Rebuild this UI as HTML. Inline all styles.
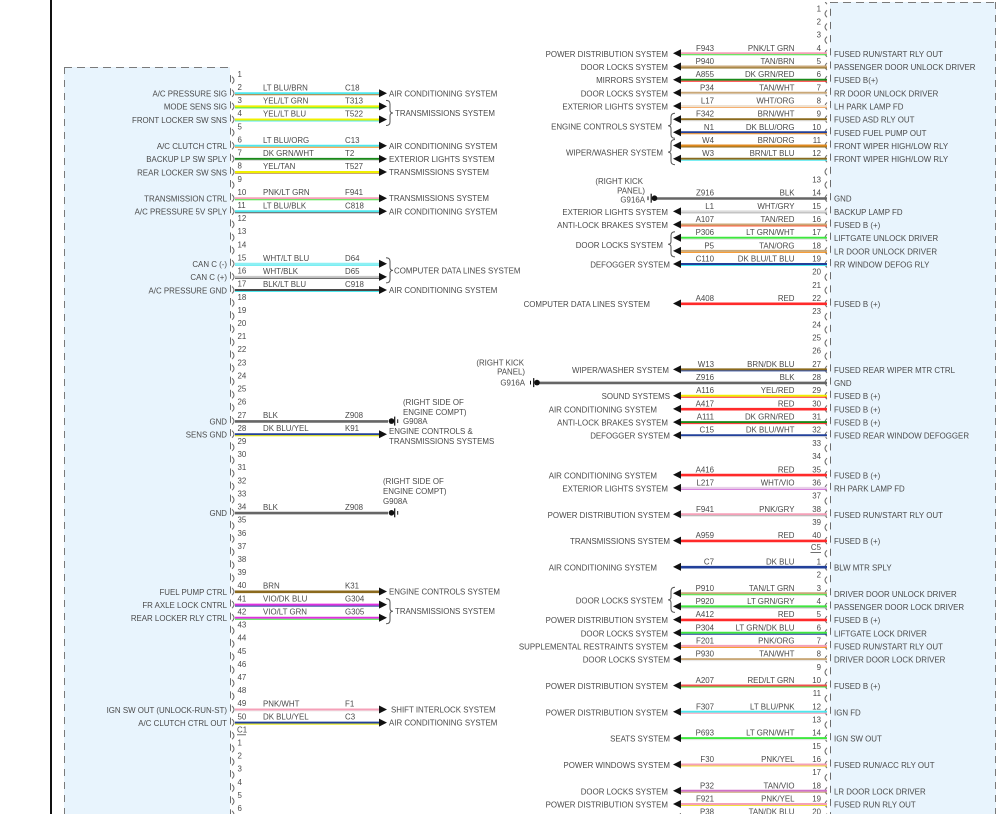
<!DOCTYPE html>
<html><head><meta charset="utf-8"><style>
html,body{margin:0;padding:0;background:#fff;}
svg{display:block;}
text{font-family:"Liberation Sans",Arial,sans-serif;font-size:7.9px;fill:#4a4a4a;}
</style></head><body>
<svg width="1004" height="814" viewBox="0 0 1004 814" xmlns="http://www.w3.org/2000/svg">
<defs>
<pattern id="lp" patternUnits="userSpaceOnUse" x="228" y="73.2" width="10" height="13.11">
<path d="M2.5,2V9" stroke="#6a6a6a" stroke-width="1"/>
<path d="M4,3.5Q8,7 4,10.5" stroke="#6a6a6a" stroke-width="1" fill="none"/>
</pattern>
<pattern id="rp" patternUnits="userSpaceOnUse" x="820" y="6.8" width="12" height="13.17">
<path d="M10.5,2V9" stroke="#6a6a6a" stroke-width="1"/>
<path d="M7,3.5Q3,7 7,10.5" stroke="#6a6a6a" stroke-width="1" fill="none"/>
</pattern>
</defs>
<rect width="1004" height="814" fill="#fff"/>
<!-- black left line -->
<rect x="50" y="0" width="2" height="814" fill="#111"/>
<!-- boxes -->
<rect x="64" y="67" width="166" height="747" fill="#e8f4fd"/>
<rect x="830" y="2" width="166" height="812" fill="#e8f4fd"/>
<path d="M64,67.5H230" stroke="#7a7a7a" stroke-dasharray="8 5"/>
<path d="M64.5,67V814" stroke="#7a7a7a" stroke-dasharray="7 6"/>
<path d="M830,2.5H996" stroke="#7a7a7a" stroke-dasharray="8 5"/>
<path d="M995.5,2V814" stroke="#7a7a7a" stroke-dasharray="7 6"/>
<rect x="228" y="73.2" width="10" height="741" fill="url(#lp)"/>
<rect x="820" y="2" width="12" height="812" fill="url(#rp)"/>

<!-- LEFT WIRES -->
<g>
<path d="M235,93.3H380" stroke="#4ee8ee" stroke-width="2"/><path d="M235,94.8H380" stroke="#a9782a" stroke-width="1"/>
<path d="M235,106.4H380" stroke="#f0f000" stroke-width="2"/><path d="M235,107.9H380" stroke="#3ee83e" stroke-width="1"/>
<path d="M235,119.5H380" stroke="#f0f000" stroke-width="2"/><path d="M235,121H380" stroke="#4ee8ee" stroke-width="1"/>
<path d="M235,145.8H380" stroke="#4ee8ee" stroke-width="2"/><path d="M235,147.3H380" stroke="#f5901e" stroke-width="1"/>
<path d="M235,158.9H380" stroke="#1a8a1a" stroke-width="2"/><path d="M235,160.4H380" stroke="#d8d8d8" stroke-width="1"/>
<path d="M235,172H380" stroke="#f0f000" stroke-width="2"/><path d="M235,173.5H380" stroke="#c9a878" stroke-width="1"/>
<path d="M235,198.2H380" stroke="#f5a0b8" stroke-width="2"/><path d="M235,199.7H380" stroke="#3ee83e" stroke-width="1"/>
<path d="M235,211.3H380" stroke="#4ee8ee" stroke-width="2"/><path d="M235,212.8H380" stroke="#5a5a5a" stroke-width="1"/>
<path d="M235,263.8H380" stroke="#8ef0f4" stroke-width="2"/><path d="M235,265.3H380" stroke="#4ee8ee" stroke-width="1"/>
<path d="M235,276.9H380" stroke="#c8c8c8" stroke-width="2"/><path d="M235,278.4H380" stroke="#5a5a5a" stroke-width="1"/>
<path d="M235,290H380" stroke="#4a4a4a" stroke-width="2"/><path d="M235,291.5H380" stroke="#4ee8ee" stroke-width="1"/>
<path d="M235,421.4H388" stroke="#666" stroke-width="2.6"/>
<path d="M235,434.2H380" stroke="#22409a" stroke-width="2"/><path d="M235,435.7H380" stroke="#e8e800" stroke-width="1"/>
<path d="M235,513.1H388" stroke="#666" stroke-width="2.6"/>
<path d="M235,591.8H380" stroke="#8b6a1e" stroke-width="2.6"/>
<path d="M235,604.6H380" stroke="#e030e0" stroke-width="2"/><path d="M235,606.1H380" stroke="#22409a" stroke-width="1"/>
<path d="M235,617.7H380" stroke="#e030e0" stroke-width="2"/><path d="M235,619.2H380" stroke="#3ee83e" stroke-width="1"/>
<path d="M235,709.5H380" stroke="#f5a0b8" stroke-width="2"/><path d="M235,711H380" stroke="#eeeeee" stroke-width="1"/>
<path d="M235,722.6H380" stroke="#22409a" stroke-width="2"/><path d="M235,724.1H380" stroke="#e8e800" stroke-width="1"/>
</g>
<!-- left arrows -->
<g fill="#111">
<path d="M379,89.3L387,93.3L379,97.3Z"/>
<path d="M379,102.4L387,106.4L379,110.4Z"/>
<path d="M379,115.5L387,119.5L379,123.5Z"/>
<path d="M379,141.8L387,145.8L379,149.8Z"/>
<path d="M379,154.9L387,158.9L379,162.9Z"/>
<path d="M379,168L387,172L379,176Z"/>
<path d="M379,194.2L387,198.2L379,202.2Z"/>
<path d="M379,207.3L387,211.3L379,215.3Z"/>
<path d="M379,259.8L387,263.8L379,267.8Z"/>
<path d="M379,272.9L387,276.9L379,280.9Z"/>
<path d="M379,286L387,290L379,294Z"/>
<path d="M379,430.2L387,434.2L379,438.2Z"/>
<path d="M379,587.5L387,591.5L379,595.5Z"/>
<path d="M379,600.6L387,604.6L379,608.6Z"/>
<path d="M379,613.7L387,617.7L379,621.7Z"/>
<path d="M379,705.5L387,709.5L379,713.5Z"/>
<path d="M379,718.6L387,722.6L379,726.6Z"/>
</g>
<!-- left braces -->
<g stroke="#555" stroke-width="1" fill="none">
<path d="M386,100.4Q390,100.4 390,104L390,110Q390,113 393,113Q390,113 390,116L390,122Q390,125.5 386,125.5"/>
<path d="M386,257.8Q390,257.8 390,261.4L390,267.4Q390,270.4 393,270.4Q390,270.4 390,273.4L390,279.4Q390,282.9 386,282.9"/>
<path d="M386,598.6Q390,598.6 390,602.2L390,608.2Q390,611.2 393,611.2Q390,611.2 390,614.2L390,620.2Q390,623.7 386,623.7"/>
</g>
<!-- left grounds -->
<g fill="#111" stroke="#111">
<circle cx="391.5" cy="421.1" r="2.8" stroke="none"/>
<path d="M394.7,416.6V425.6" stroke-width="1.2" fill="none"/>
<path d="M397.7,419.3V423" stroke-width="1" fill="none"/>
<circle cx="391.5" cy="512.8" r="2.8" stroke="none"/>
<path d="M394.7,508.3V517.3" stroke-width="1.2" fill="none"/>
<path d="M397.7,511V514.7" stroke-width="1" fill="none"/>
</g>

<!-- LEFT TEXT -->
<g text-anchor="end">
<text x="227" y="96.6">A/C PRESSURE SIG</text>
<text x="227" y="109.7">MODE SENS SIG</text>
<text x="227" y="122.8">FRONT LOCKER SW SNS</text>
<text x="227" y="149.1">A/C CLUTCH CTRL</text>
<text x="227" y="162.2">BACKUP LP SW SPLY</text>
<text x="227" y="175.3">REAR LOCKER SW SNS</text>
<text x="227" y="201.5">TRANSMISSION CTRL</text>
<text x="227" y="214.6">A/C PRESSURE 5V SPLY</text>
<text x="227" y="267.1">CAN C (-)</text>
<text x="227" y="280.2">CAN C (+)</text>
<text x="227" y="293.3">A/C PRESSURE GND</text>
<text x="227" y="424.4">GND</text>
<text x="227" y="437.5">SENS GND</text>
<text x="227" y="516.1">GND</text>
<text x="227" y="594.8">FUEL PUMP CTRL</text>
<text x="227" y="607.9">FR AXLE LOCK CNTRL</text>
<text x="227" y="621">REAR LOCKER RLY CTRL</text>
<text x="227" y="712.8">IGN SW OUT (UNLOCK-RUN-ST)</text>
<text x="227" y="725.9">A/C CLUTCH CTRL OUT</text>
</g>
<g>
<text x="237.5" y="76.9">1</text><text x="237.5" y="90">2</text><text x="237.5" y="103.1">3</text><text x="237.5" y="116.2">4</text><text x="237.5" y="129.4">5</text>
<text x="237.5" y="142.5">6</text><text x="237.5" y="155.6">7</text><text x="237.5" y="168.7">8</text><text x="237.5" y="181.8">9</text><text x="237.5" y="194.9">10</text>
<text x="237.5" y="208">11</text><text x="237.5" y="221.1">12</text><text x="237.5" y="234.2">13</text><text x="237.5" y="247.3">14</text><text x="237.5" y="260.5">15</text>
<text x="237.5" y="273.6">16</text><text x="237.5" y="286.7">17</text><text x="237.5" y="299.8">18</text><text x="237.5" y="312.9">19</text><text x="237.5" y="326">20</text>
<text x="237.5" y="339.1">21</text><text x="237.5" y="352.2">22</text><text x="237.5" y="365.3">23</text><text x="237.5" y="378.4">24</text><text x="237.5" y="391.6">25</text>
<text x="237.5" y="404.7">26</text><text x="237.5" y="417.8">27</text><text x="237.5" y="430.9">28</text><text x="237.5" y="444">29</text><text x="237.5" y="457.1">30</text>
<text x="237.5" y="470.2">31</text><text x="237.5" y="483.3">32</text><text x="237.5" y="496.4">33</text><text x="237.5" y="509.5">34</text><text x="237.5" y="522.7">35</text>
<text x="237.5" y="535.8">36</text><text x="237.5" y="548.9">37</text><text x="237.5" y="562">38</text><text x="237.5" y="575.1">39</text><text x="237.5" y="588.2">40</text>
<text x="237.5" y="601.3">41</text><text x="237.5" y="614.4">42</text><text x="237.5" y="627.5">43</text><text x="237.5" y="640.6">44</text><text x="237.5" y="653.8">45</text>
<text x="237.5" y="666.9">46</text><text x="237.5" y="680">47</text><text x="237.5" y="693.1">48</text><text x="237.5" y="706.2">49</text><text x="237.5" y="719.3">50</text>
<text x="237" y="732.5">C1</text>
<text x="237.5" y="745.5">1</text><text x="237.5" y="758.6">2</text><text x="237.5" y="771.7">3</text><text x="237.5" y="784.8">4</text><text x="237.5" y="797.9">5</text><text x="237.5" y="811">6</text>
</g>
<path d="M237,734.8H246" stroke="#4a4a4a" stroke-width="0.8"/>
<g>
<text x="263" y="90.3">LT BLU/BRN</text><text x="345" y="90.3">C18</text>
<text x="263" y="103.4">YEL/LT GRN</text><text x="345" y="103.4">T313</text>
<text x="263" y="116.5">YEL/LT BLU</text><text x="345" y="116.5">T522</text>
<text x="263" y="142.8">LT BLU/ORG</text><text x="345" y="142.8">C13</text>
<text x="263" y="155.9">DK GRN/WHT</text><text x="345" y="155.9">T2</text>
<text x="263" y="169">YEL/TAN</text><text x="345" y="169">T527</text>
<text x="263" y="195.2">PNK/LT GRN</text><text x="345" y="195.2">F941</text>
<text x="263" y="208.3">LT BLU/BLK</text><text x="345" y="208.3">C818</text>
<text x="263" y="260.8">WHT/LT BLU</text><text x="345" y="260.8">D64</text>
<text x="263" y="273.9">WHT/BLK</text><text x="345" y="273.9">D65</text>
<text x="263" y="287">BLK/LT BLU</text><text x="345" y="287">C918</text>
<text x="263" y="418.1">BLK</text><text x="345" y="418.1">Z908</text>
<text x="263" y="431.2">DK BLU/YEL</text><text x="345" y="431.2">K91</text>
<text x="263" y="509.8">BLK</text><text x="345" y="509.8">Z908</text>
<text x="263" y="588.5">BRN</text><text x="345" y="588.5">K31</text>
<text x="263" y="601.6">VIO/DK BLU</text><text x="345" y="601.6">G304</text>
<text x="263" y="614.7">VIO/LT GRN</text><text x="345" y="614.7">G305</text>
<text x="263" y="706.5">PNK/WHT</text><text x="345" y="706.5">F1</text>
<text x="263" y="719.6">DK BLU/YEL</text><text x="345" y="719.6">C3</text>
</g>
<g>
<text x="389" y="96.3">AIR CONDITIONING SYSTEM</text>
<text x="395" y="116">TRANSMISSIONS SYSTEM</text>
<text x="389" y="148.8">AIR CONDITIONING SYSTEM</text>
<text x="389" y="161.9">EXTERIOR LIGHTS SYSTEM</text>
<text x="389" y="175">TRANSMISSIONS SYSTEM</text>
<text x="389" y="201.2">TRANSMISSIONS SYSTEM</text>
<text x="389" y="214.3">AIR CONDITIONING SYSTEM</text>
<text x="394" y="273.4">COMPUTER DATA LINES SYSTEM</text>
<text x="389" y="293">AIR CONDITIONING SYSTEM</text>
<text x="403" y="405">(RIGHT SIDE OF</text>
<text x="403" y="415">ENGINE COMPT)</text>
<text x="403" y="424">G908A</text>
<text x="389" y="434">ENGINE CONTROLS &amp;</text>
<text x="389" y="444">TRANSMISSIONS SYSTEMS</text>
<text x="383" y="484">(RIGHT SIDE OF</text>
<text x="383" y="494">ENGINE COMPT)</text>
<text x="383" y="504">G908A</text>
<text x="389" y="594.5">ENGINE CONTROLS SYSTEM</text>
<text x="395" y="614.2">TRANSMISSIONS SYSTEM</text>
<text x="391" y="712.5">SHIFT INTERLOCK SYSTEM</text>
<text x="389" y="725.6">AIR CONDITIONING SYSTEM</text>
</g>

<!-- RIGHT WIRES -->
<g>
<path d="M680,53.3H827" stroke="#f5a0b8" stroke-width="2"/><path d="M680,54.8H827" stroke="#3ee83e" stroke-width="1"/>
<path d="M680,66.5H827" stroke="#c9a878" stroke-width="2"/><path d="M680,68H827" stroke="#8b6a1e" stroke-width="1"/>
<path d="M680,79.7H827" stroke="#1a8a1a" stroke-width="2"/><path d="M680,81.2H827" stroke="#ff2a2a" stroke-width="1"/>
<path d="M680,92.8H827" stroke="#c9a878" stroke-width="2"/><path d="M680,94.3H827" stroke="#e8e8e8" stroke-width="1"/>
<path d="M680,106H827" stroke="#efe2d2" stroke-width="2"/><path d="M680,107.5H827" stroke="#f5b070" stroke-width="1"/>
<path d="M680,119.2H827" stroke="#8b6a1e" stroke-width="2"/><path d="M680,120.7H827" stroke="#e0e0e0" stroke-width="1"/>
<path d="M680,132.3H827" stroke="#22409a" stroke-width="2"/><path d="M680,133.8H827" stroke="#f5901e" stroke-width="1"/>
<path d="M680,145.5H827" stroke="#e08a20" stroke-width="2"/><path d="M680,147H827" stroke="#8b6a1e" stroke-width="1"/>
<path d="M680,158.7H827" stroke="#8b6a1e" stroke-width="2"/><path d="M680,160.2H827" stroke="#4ee8ee" stroke-width="1"/>
<path d="M657,198.5H827" stroke="#666" stroke-width="2.6"/>
<path d="M680,211.4H827" stroke="#dcdcdc" stroke-width="2"/><path d="M680,212.9H827" stroke="#b0b0b0" stroke-width="1"/>
<path d="M680,224.5H827" stroke="#c9a878" stroke-width="2"/><path d="M680,226H827" stroke="#ff5a3a" stroke-width="1"/>
<path d="M680,237.7H827" stroke="#3ee83e" stroke-width="2"/><path d="M680,239.2H827" stroke="#e0e0e0" stroke-width="1"/>
<path d="M680,250.9H827" stroke="#c9a878" stroke-width="2"/><path d="M680,252.4H827" stroke="#f5901e" stroke-width="1"/>
<path d="M680,264H827" stroke="#22409a" stroke-width="2"/><path d="M680,265.5H827" stroke="#4ee8ee" stroke-width="1"/>
<path d="M680,303.8H827" stroke="#ff2a2a" stroke-width="2.6"/>
<path d="M680,369.4H827" stroke="#8b6a1e" stroke-width="2"/><path d="M680,370.9H827" stroke="#22409a" stroke-width="1"/>
<path d="M539,382.9H827" stroke="#666" stroke-width="2.6"/>
<path d="M680,395.7H827" stroke="#f0f000" stroke-width="2"/><path d="M680,397.2H827" stroke="#ff2a2a" stroke-width="1"/>
<path d="M680,409.2H827" stroke="#ff2a2a" stroke-width="2.6"/>
<path d="M680,422.1H827" stroke="#1a8a1a" stroke-width="2"/><path d="M680,423.6H827" stroke="#ff2a2a" stroke-width="1"/>
<path d="M680,435.2H827" stroke="#22409a" stroke-width="2"/><path d="M680,436.7H827" stroke="#e0e0e0" stroke-width="1"/>
<path d="M680,475.1H827" stroke="#ff2a2a" stroke-width="2.6"/>
<path d="M680,487.9H827" stroke="#e8d0e8" stroke-width="2"/><path d="M680,489.4H827" stroke="#d070d8" stroke-width="1"/>
<path d="M680,514.3H827" stroke="#f5a0b8" stroke-width="2"/><path d="M680,515.8H827" stroke="#b0b0b0" stroke-width="1"/>
<path d="M680,540.9H827" stroke="#ff2a2a" stroke-width="2.6"/>
<path d="M680,567.2H827" stroke="#22409a" stroke-width="2.6"/>
<path d="M680,593.3H827" stroke="#c9a878" stroke-width="2"/><path d="M680,594.8H827" stroke="#3ee83e" stroke-width="1"/>
<path d="M680,606.4H827" stroke="#3ee83e" stroke-width="2"/><path d="M680,607.9H827" stroke="#b0b0b0" stroke-width="1"/>
<path d="M680,619.9H827" stroke="#ff2a2a" stroke-width="2.6"/>
<path d="M680,632.8H827" stroke="#3ee83e" stroke-width="2"/><path d="M680,634.3H827" stroke="#22409a" stroke-width="1"/>
<path d="M680,645.9H827" stroke="#f5a0b8" stroke-width="2"/><path d="M680,647.4H827" stroke="#f5901e" stroke-width="1"/>
<path d="M680,659.1H827" stroke="#c9a878" stroke-width="2"/><path d="M680,660.6H827" stroke="#e8e8e8" stroke-width="1"/>
<path d="M680,685.5H827" stroke="#f05050" stroke-width="2"/><path d="M680,687H827" stroke="#3ee83e" stroke-width="1"/>
<path d="M680,711.8H827" stroke="#4ee8ee" stroke-width="2"/><path d="M680,713.3H827" stroke="#f5a0b8" stroke-width="1"/>
<path d="M680,738.1H827" stroke="#3ee83e" stroke-width="2"/><path d="M680,739.6H827" stroke="#e0e0e0" stroke-width="1"/>
<path d="M680,764.5H827" stroke="#f5a0b8" stroke-width="2"/><path d="M680,766H827" stroke="#f0e040" stroke-width="1"/>
<path d="M680,790.8H827" stroke="#d070c8" stroke-width="2"/><path d="M680,792.3H827" stroke="#c9a878" stroke-width="1"/>
<path d="M680,804H827" stroke="#f5a0b8" stroke-width="2"/><path d="M680,805.5H827" stroke="#f0e040" stroke-width="1"/>
<path d="M680,817.2H827" stroke="#c9a878" stroke-width="2"/><path d="M680,818.7H827" stroke="#22409a" stroke-width="1"/>
</g>
<!-- right arrows -->
<g fill="#111">
<path d="M681,49.3L673,53.3L681,57.3Z"/>
<path d="M681,62.5L673,66.5L681,70.5Z"/>
<path d="M681,75.7L673,79.7L681,83.7Z"/>
<path d="M681,88.8L673,92.8L681,96.8Z"/>
<path d="M681,102L673,106L681,110Z"/>
<path d="M681,115.2L673,119.2L681,123.2Z"/>
<path d="M681,128.3L673,132.3L681,136.3Z"/>
<path d="M681,141.5L673,145.5L681,149.5Z"/>
<path d="M681,154.7L673,158.7L681,162.7Z"/>
<path d="M681,207.4L673,211.4L681,215.4Z"/>
<path d="M681,220.5L673,224.5L681,228.5Z"/>
<path d="M681,233.7L673,237.7L681,241.7Z"/>
<path d="M681,246.9L673,250.9L681,254.9Z"/>
<path d="M681,260L673,264L681,268Z"/>
<path d="M681,299.5L673,303.5L681,307.5Z"/>
<path d="M681,365.4L673,369.4L681,373.4Z"/>
<path d="M681,391.7L673,395.7L681,399.7Z"/>
<path d="M681,404.9L673,408.9L681,412.9Z"/>
<path d="M681,418.1L673,422.1L681,426.1Z"/>
<path d="M681,431.2L673,435.2L681,439.2Z"/>
<path d="M681,470.8L673,474.8L681,478.8Z"/>
<path d="M681,483.9L673,487.9L681,491.9Z"/>
<path d="M681,510.3L673,514.3L681,518.3Z"/>
<path d="M681,536.6L673,540.6L681,544.6Z"/>
<path d="M681,562.9L673,566.9L681,570.9Z"/>
<path d="M681,589.3L673,593.3L681,597.3Z"/>
<path d="M681,602.4L673,606.4L681,610.4Z"/>
<path d="M681,615.6L673,619.6L681,623.6Z"/>
<path d="M681,628.8L673,632.8L681,636.8Z"/>
<path d="M681,641.9L673,645.9L681,649.9Z"/>
<path d="M681,655.1L673,659.1L681,663.1Z"/>
<path d="M681,681.5L673,685.5L681,689.5Z"/>
<path d="M681,707.8L673,711.8L681,715.8Z"/>
<path d="M681,734.1L673,738.1L681,742.1Z"/>
<path d="M681,760.5L673,764.5L681,768.5Z"/>
<path d="M681,786.8L673,790.8L681,794.8Z"/>
<path d="M681,800L673,804L681,808Z"/>
<path d="M681,813.2L673,817.2L681,821.2Z"/>
</g>
<!-- right braces -->
<g stroke="#555" stroke-width="1" fill="none">
<path d="M675,113.2Q671,113.2 671,117L671,123Q671,125.75 668,125.75Q671,125.75 671,128.5L671,134.5Q671,138.3 675,138.3"/>
<path d="M675,139.5Q671,139.5 671,143.3L671,149.3Q671,152.1 668,152.1Q671,152.1 671,154.9L671,160.9Q671,164.7 675,164.7"/>
<path d="M675,231.7Q671,231.7 671,235.5L671,241.5Q671,244.3 668,244.3Q671,244.3 671,247.1L671,253.1Q671,256.9 675,256.9"/>
<path d="M675,587.3Q671,587.3 671,591.1L671,597.1Q671,599.85 668,599.85Q671,599.85 671,602.6L671,608.6Q671,612.4 675,612.4"/>
</g>
<!-- right grounds -->
<g fill="#111" stroke="#111">
<circle cx="654.5" cy="198.2" r="2.8" stroke="none"/>
<path d="M651.2,193.7V202.7" stroke-width="1.2" fill="none"/>
<path d="M648,196.4V200.1" stroke-width="1" fill="none"/>
<circle cx="537" cy="382.6" r="2.8" stroke="none"/>
<path d="M533.7,378.1V387.1" stroke-width="1.2" fill="none"/>
<path d="M530.5,380.8V384.5" stroke-width="1" fill="none"/>
</g>

<!-- RIGHT TEXT: numbers -->
<g text-anchor="end">
<text x="821" y="11.3">1</text><text x="821" y="24.5">2</text><text x="821" y="37.6">3</text><text x="821" y="50.8">4</text><text x="821" y="64">5</text>
<text x="821" y="77.2">6</text><text x="821" y="90.3">7</text><text x="821" y="103.5">8</text><text x="821" y="116.7">9</text><text x="821" y="129.8">10</text>
<text x="821" y="143">11</text><text x="821" y="156.2">12</text>
<text x="821" y="182.5">13</text><text x="821" y="195.7">14</text><text x="821" y="208.9">15</text><text x="821" y="222">16</text><text x="821" y="235.2">17</text>
<text x="821" y="248.4">18</text><text x="821" y="261.5">19</text><text x="821" y="274.7">20</text><text x="821" y="287.9">21</text><text x="821" y="301">22</text>
<text x="821" y="314.2">23</text><text x="821" y="327.4">24</text><text x="821" y="340.6">25</text><text x="821" y="353.7">26</text><text x="821" y="366.9">27</text>
<text x="821" y="380.1">28</text><text x="821" y="393.2">29</text><text x="821" y="406.4">30</text><text x="821" y="419.6">31</text><text x="821" y="432.7">32</text>
<text x="821" y="445.9">33</text><text x="821" y="459.1">34</text><text x="821" y="472.3">35</text><text x="821" y="485.4">36</text><text x="821" y="498.6">37</text>
<text x="821" y="511.8">38</text><text x="821" y="524.9">39</text><text x="821" y="538.1">40</text>
<text x="821" y="550">C5</text>
<text x="821" y="564.4">1</text><text x="821" y="577.6">2</text><text x="821" y="590.8">3</text><text x="821" y="603.9">4</text><text x="821" y="617.1">5</text>
<text x="821" y="630.3">6</text><text x="821" y="643.4">7</text><text x="821" y="656.6">8</text><text x="821" y="669.8">9</text><text x="821" y="683">10</text>
<text x="821" y="696.1">11</text><text x="821" y="709.3">12</text><text x="821" y="722.5">13</text><text x="821" y="735.6">14</text><text x="821" y="748.8">15</text>
<text x="821" y="762">16</text><text x="821" y="775.1">17</text><text x="821" y="788.3">18</text><text x="821" y="801.5">19</text><text x="821" y="814.3">20</text>
</g>
<path d="M810.5,552.6H821" stroke="#4a4a4a" stroke-width="0.8"/>
<!-- right circuit + color -->
<g text-anchor="end">
<text x="714" y="50.8">F943</text><text x="794.5" y="50.8">PNK/LT GRN</text>
<text x="714" y="64">P940</text><text x="794.5" y="64">TAN/BRN</text>
<text x="714" y="77.2">A855</text><text x="794.5" y="77.2">DK GRN/RED</text>
<text x="714" y="90.3">P34</text><text x="794.5" y="90.3">TAN/WHT</text>
<text x="714" y="103.5">L17</text><text x="794.5" y="103.5">WHT/ORG</text>
<text x="714" y="116.7">F342</text><text x="794.5" y="116.7">BRN/WHT</text>
<text x="714" y="129.8">N1</text><text x="794.5" y="129.8">DK BLU/ORG</text>
<text x="714" y="143">W4</text><text x="794.5" y="143">BRN/ORG</text>
<text x="714" y="156.2">W3</text><text x="794.5" y="156.2">BRN/LT BLU</text>
<text x="714" y="195.7">Z916</text><text x="794.5" y="195.7">BLK</text>
<text x="714" y="208.9">L1</text><text x="794.5" y="208.9">WHT/GRY</text>
<text x="714" y="222">A107</text><text x="794.5" y="222">TAN/RED</text>
<text x="714" y="235.2">P306</text><text x="794.5" y="235.2">LT GRN/WHT</text>
<text x="714" y="248.4">P5</text><text x="794.5" y="248.4">TAN/ORG</text>
<text x="714" y="261.5">C110</text><text x="794.5" y="261.5">DK BLU/LT BLU</text>
<text x="714" y="301">A408</text><text x="794.5" y="301">RED</text>
<text x="714" y="366.9">W13</text><text x="794.5" y="366.9">BRN/DK BLU</text>
<text x="714" y="380.1">Z916</text><text x="794.5" y="380.1">BLK</text>
<text x="714" y="393.2">A116</text><text x="794.5" y="393.2">YEL/RED</text>
<text x="714" y="406.4">A417</text><text x="794.5" y="406.4">RED</text>
<text x="714" y="419.6">A111</text><text x="794.5" y="419.6">DK GRN/RED</text>
<text x="714" y="432.7">C15</text><text x="794.5" y="432.7">DK BLU/WHT</text>
<text x="714" y="472.3">A416</text><text x="794.5" y="472.3">RED</text>
<text x="714" y="485.4">L217</text><text x="794.5" y="485.4">WHT/VIO</text>
<text x="714" y="511.8">F941</text><text x="794.5" y="511.8">PNK/GRY</text>
<text x="714" y="538.1">A959</text><text x="794.5" y="538.1">RED</text>
<text x="714" y="564.4">C7</text><text x="794.5" y="564.4">DK BLU</text>
<text x="714" y="590.8">P910</text><text x="794.5" y="590.8">TAN/LT GRN</text>
<text x="714" y="603.9">P920</text><text x="794.5" y="603.9">LT GRN/GRY</text>
<text x="714" y="617.1">A412</text><text x="794.5" y="617.1">RED</text>
<text x="714" y="630.3">P304</text><text x="794.5" y="630.3">LT GRN/DK BLU</text>
<text x="714" y="643.4">F201</text><text x="794.5" y="643.4">PNK/ORG</text>
<text x="714" y="656.6">P930</text><text x="794.5" y="656.6">TAN/WHT</text>
<text x="714" y="683">A207</text><text x="794.5" y="683">RED/LT GRN</text>
<text x="714" y="709.3">F307</text><text x="794.5" y="709.3">LT BLU/PNK</text>
<text x="714" y="735.6">P693</text><text x="794.5" y="735.6">LT GRN/WHT</text>
<text x="714" y="762">F30</text><text x="794.5" y="762">PNK/YEL</text>
<text x="714" y="788.3">P32</text><text x="794.5" y="788.3">TAN/VIO</text>
<text x="714" y="801.5">F921</text><text x="794.5" y="801.5">PNK/YEL</text>
<text x="714" y="814.3">P38</text><text x="794.5" y="814.3">TAN/DK BLU</text>
</g>
<!-- right destinations -->
<g text-anchor="end">
<text x="668" y="56.8">POWER DISTRIBUTION SYSTEM</text>
<text x="668" y="70">DOOR LOCKS SYSTEM</text>
<text x="668" y="83.2">MIRRORS SYSTEM</text>
<text x="668" y="96.3">DOOR LOCKS SYSTEM</text>
<text x="668" y="109.5">EXTERIOR LIGHTS SYSTEM</text>
<text x="662" y="129.3">ENGINE CONTROLS SYSTEM</text>
<text x="663" y="155.6">WIPER/WASHER SYSTEM</text>
<text x="643" y="184">(RIGHT KICK</text>
<text x="645" y="193.3">PANEL)</text>
<text x="645" y="202.3">G916A</text>
<text x="668" y="214.9">EXTERIOR LIGHTS SYSTEM</text>
<text x="668" y="228">ANTI-LOCK BRAKES SYSTEM</text>
<text x="663" y="247.8">DOOR LOCKS SYSTEM</text>
<text x="670" y="267.5">DEFOGGER SYSTEM</text>
<text x="650" y="307">COMPUTER DATA LINES SYSTEM</text>
<text x="669" y="372.9">WIPER/WASHER SYSTEM</text>
<text x="524" y="365.5">(RIGHT KICK</text>
<text x="525" y="374.7">PANEL)</text>
<text x="525" y="385.6">G916A</text>
<text x="670" y="399.2">SOUND SYSTEMS</text>
<text x="657" y="412.4">AIR CONDITIONING SYSTEM</text>
<text x="668" y="425.6">ANTI-LOCK BRAKES SYSTEM</text>
<text x="670" y="438.7">DEFOGGER SYSTEM</text>
<text x="657" y="478.3">AIR CONDITIONING SYSTEM</text>
<text x="668" y="491.4">EXTERIOR LIGHTS SYSTEM</text>
<text x="670" y="517.8">POWER DISTRIBUTION SYSTEM</text>
<text x="670" y="544.1">TRANSMISSIONS SYSTEM</text>
<text x="657" y="570.4">AIR CONDITIONING SYSTEM</text>
<text x="663" y="603.4">DOOR LOCKS SYSTEM</text>
<text x="668" y="623.1">POWER DISTRIBUTION SYSTEM</text>
<text x="668" y="636.3">DOOR LOCKS SYSTEM</text>
<text x="668" y="649.4">SUPPLEMENTAL RESTRAINTS SYSTEM</text>
<text x="670" y="662.6">DOOR LOCKS SYSTEM</text>
<text x="668" y="689">POWER DISTRIBUTION SYSTEM</text>
<text x="668" y="715.3">POWER DISTRIBUTION SYSTEM</text>
<text x="670" y="741.6">SEATS SYSTEM</text>
<text x="670" y="768">POWER WINDOWS SYSTEM</text>
<text x="668" y="794.3">DOOR LOCKS SYSTEM</text>
<text x="668" y="807.5">POWER DISTRIBUTION SYSTEM</text>
<text x="668" y="820.2">DOOR LOCKS SYSTEM</text>
</g>
<!-- right functions -->
<g>
<text x="834" y="56.8">FUSED RUN/START RLY OUT</text>
<text x="834" y="70">PASSENGER DOOR UNLOCK DRIVER</text>
<text x="834" y="83.2">FUSED B(+)</text>
<text x="834" y="96.3">RR DOOR UNLOCK DRIVER</text>
<text x="834" y="109.5">LH PARK LAMP FD</text>
<text x="834" y="122.7">FUSED ASD RLY OUT</text>
<text x="834" y="135.8">FUSED FUEL PUMP OUT</text>
<text x="834" y="149">FRONT WIPER HIGH/LOW RLY</text>
<text x="834" y="162.2">FRONT WIPER HIGH/LOW RLY</text>
<text x="834" y="201.7">GND</text>
<text x="834" y="214.9">BACKUP LAMP FD</text>
<text x="834" y="228">FUSED B (+)</text>
<text x="834" y="241.2">LIFTGATE UNLOCK DRIVER</text>
<text x="834" y="254.4">LR DOOR UNLOCK DRIVER</text>
<text x="834" y="267.5">RR WINDOW DEFOG RLY</text>
<text x="834" y="307">FUSED B (+)</text>
<text x="834" y="372.9">FUSED REAR WIPER MTR CTRL</text>
<text x="834" y="386.1">GND</text>
<text x="834" y="399.2">FUSED B (+)</text>
<text x="834" y="412.4">FUSED B (+)</text>
<text x="834" y="425.6">FUSED B (+)</text>
<text x="834" y="438.7">FUSED REAR WINDOW DEFOGGER</text>
<text x="834" y="478.3">FUSED B (+)</text>
<text x="834" y="491.4">RH PARK LAMP FD</text>
<text x="834" y="517.8">FUSED RUN/START RLY OUT</text>
<text x="834" y="544.1">FUSED B (+)</text>
<text x="834" y="570.4">BLW MTR SPLY</text>
<text x="834" y="596.8">DRIVER DOOR UNLOCK DRIVER</text>
<text x="834" y="609.9">PASSENGER DOOR LOCK DRIVER</text>
<text x="834" y="623.1">FUSED B (+)</text>
<text x="834" y="636.3">LIFTGATE LOCK DRIVER</text>
<text x="834" y="649.4">FUSED RUN/START RLY OUT</text>
<text x="834" y="662.6">DRIVER DOOR LOCK DRIVER</text>
<text x="834" y="689">FUSED B (+)</text>
<text x="834" y="715.3">IGN FD</text>
<text x="834" y="741.6">IGN SW OUT</text>
<text x="834" y="768">FUSED RUN/ACC RLY OUT</text>
<text x="834" y="794.3">LR DOOR LOCK DRIVER</text>
<text x="834" y="807.5">FUSED RUN RLY OUT</text>
<text x="834" y="820.2">RR DOOR LOCK DRIVER</text>
</g>
</svg>
</body></html>
